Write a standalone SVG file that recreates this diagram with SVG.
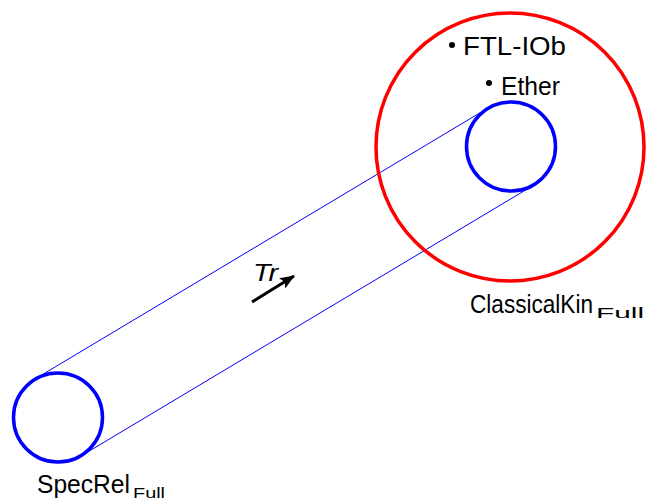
<svg xmlns="http://www.w3.org/2000/svg" width="647" height="502" viewBox="0 0 647 502">
<style>
text{font-family:"Liberation Sans",Arial,sans-serif;fill:#000}
.lab{font-size:26px}
.sub{font-size:15px}
.thin{stroke:#0000ff;stroke-width:1;fill:none}
.blue{stroke:#0000ff;stroke-width:3.5;fill:none}
</style>
<defs>
<marker id="ah" markerWidth="15" markerHeight="12" refX="14" refY="6" orient="auto" markerUnits="userSpaceOnUse">
<path d="M0,0 L15,6 L0,12 L3,6 Z" fill="#000"/>
</marker>
</defs>
<g id="connectors">
<line class="thin" x1="35" y1="379" x2="488" y2="108"/>
<line class="thin" x1="81" y1="456" x2="534" y2="185"/>
<line x1="252" y1="302" x2="294" y2="276" stroke="#000" stroke-width="3" marker-end="url(#ah)"/>
<text x="253" y="281" font-size="23" font-style="italic" textLength="25" lengthAdjust="spacingAndGlyphs">Tr</text>
</g>
<g id="classicalkin">
<circle cx="510" cy="147" r="134" fill="none" stroke="#ff0000" stroke-width="3.5"/>
<text class="lab" x="470" y="313" textLength="123" lengthAdjust="spacingAndGlyphs">ClassicalKin</text>
<text class="sub" x="596" y="318" textLength="48" lengthAdjust="spacingAndGlyphs">Full</text>
</g>
<g id="ftl-iob">
<circle cx="452" cy="45" r="3" fill="#000"/>
<text class="lab" x="463" y="55" textLength="103" lengthAdjust="spacingAndGlyphs">FTL-IOb</text>
</g>
<g id="ether">
<circle cx="489" cy="83" r="3" fill="#000"/>
<text class="lab" x="501" y="95" textLength="59" lengthAdjust="spacingAndGlyphs">Ether</text>
</g>
<g id="ether-circle">
<circle class="blue" cx="511" cy="146.5" r="44.5"/>
</g>
<g id="specrel">
<circle class="blue" cx="58" cy="417.5" r="44.5"/>
<text class="lab" x="37" y="493" textLength="93" lengthAdjust="spacingAndGlyphs">SpecRel</text>
<text class="sub" x="133" y="498" textLength="32" lengthAdjust="spacingAndGlyphs">Full</text>
</g>
</svg>
